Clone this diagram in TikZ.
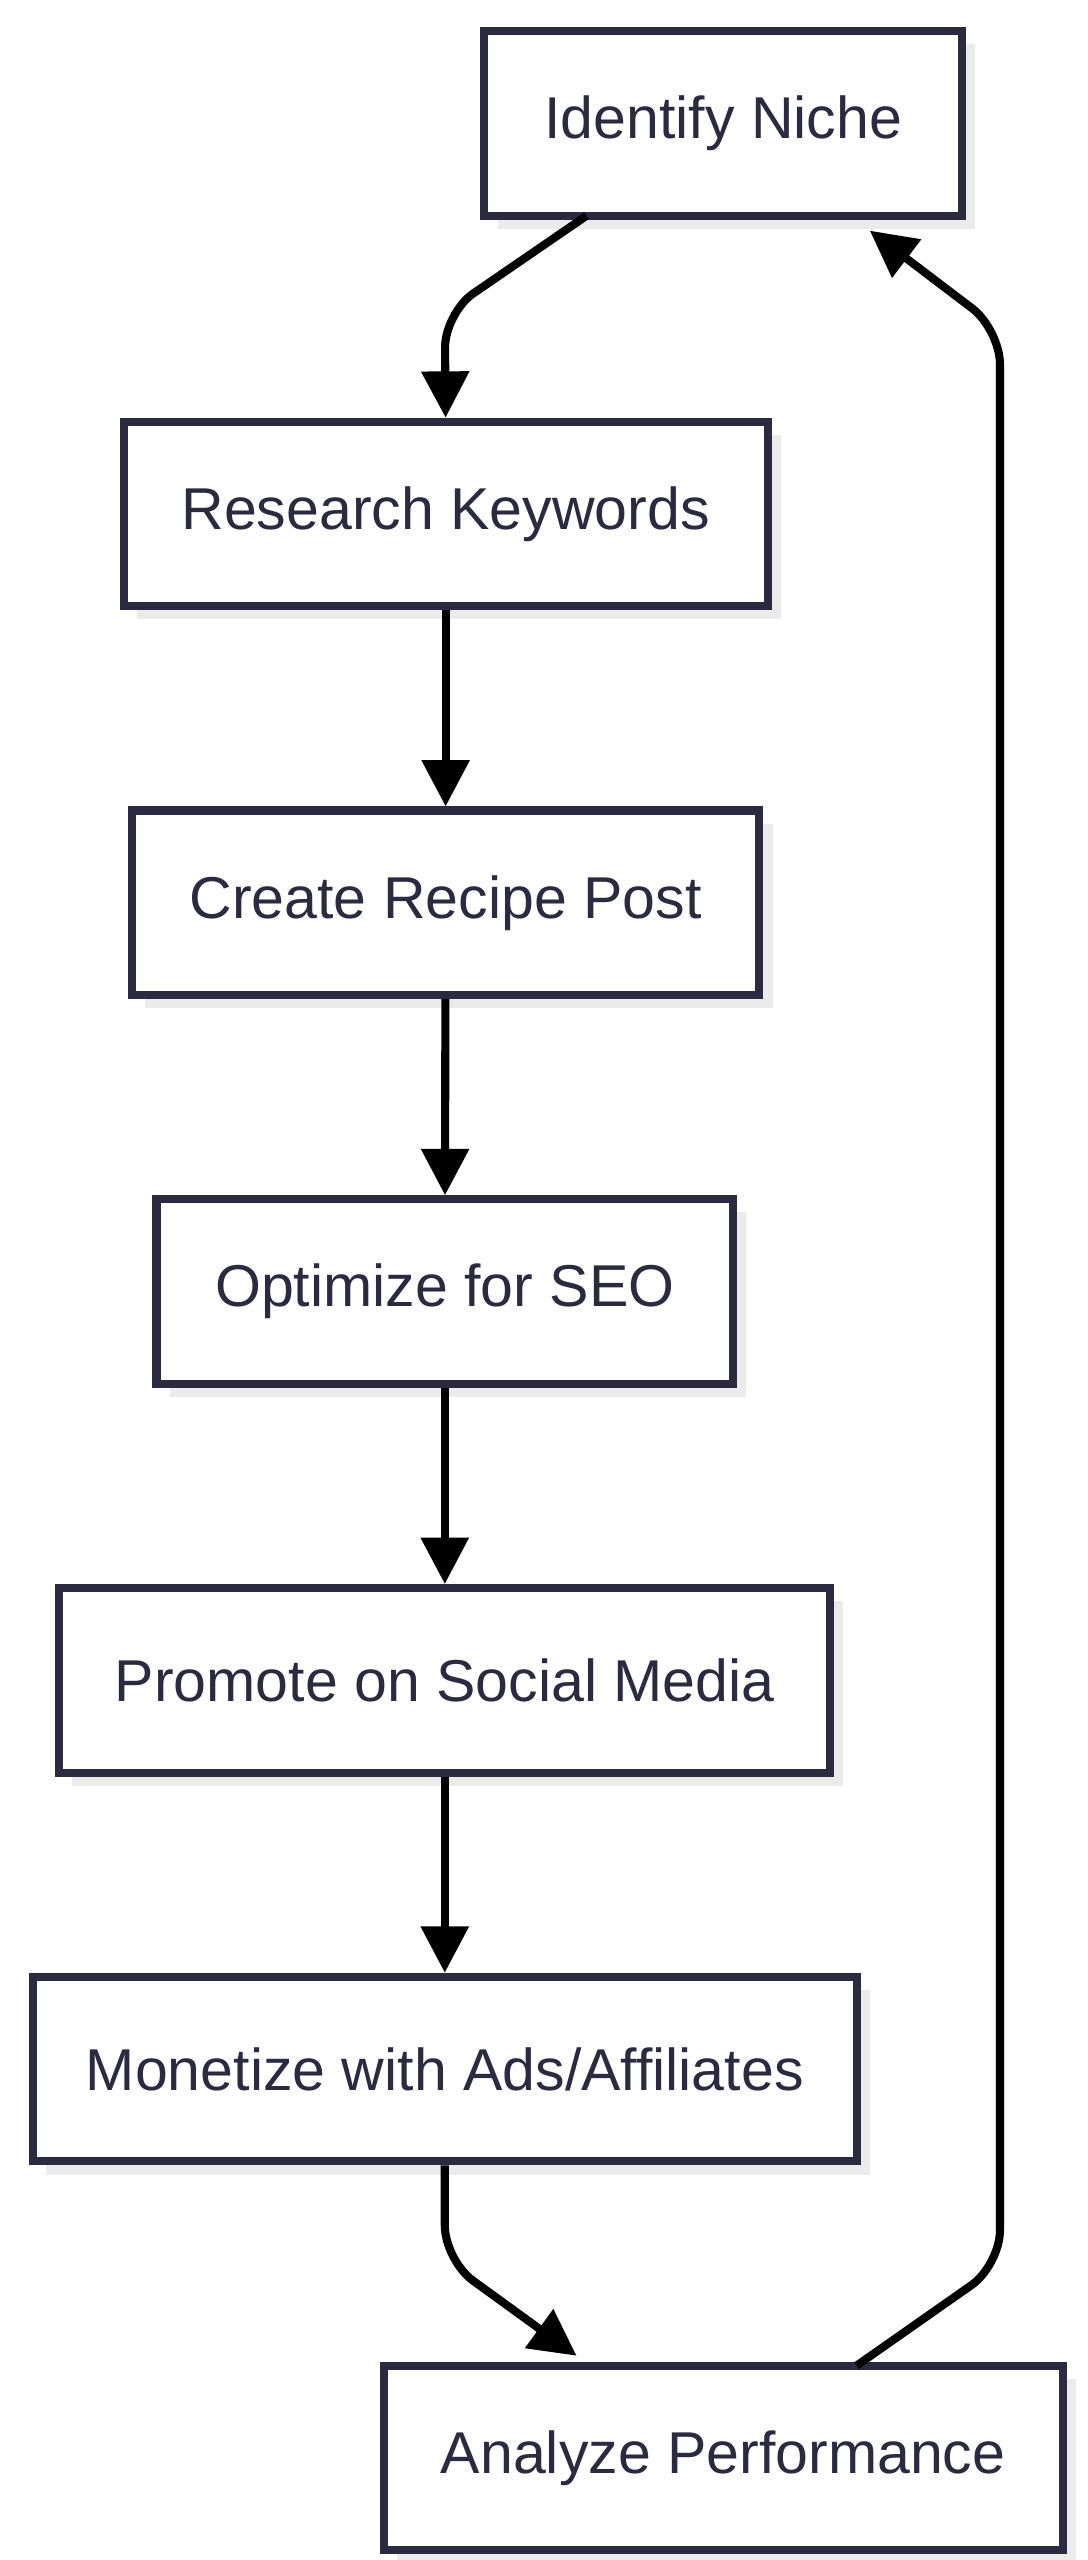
\documentclass[tikz,border=0pt]{standalone}
\usepackage{fontspec}
\setmainfont{Liberation Sans}
\usetikzlibrary{arrows.meta}
\definecolor{boxc}{HTML}{2B2A40}
\begin{document}
\begin{tikzpicture}[x=0.05cm,y=-0.05cm,
  stepbox/.style={draw=boxc,line width=7pt,fill=white,text=boxc,font=\fontsize{51}{56}\selectfont,inner sep=0pt},
  shade/.style={fill=black!8},
  conn/.style={line width=7pt,-{Triangle[length=40pt,width=40pt]},rounded corners=30pt}]
\useasboundingbox[fill=white] (0,0) rectangle (660,1554);
\def\bx#1#2#3#4#5#6{%
  \fill[shade] (#2+8,#3+8) rectangle (#4+8,#5+8);
  \node[stepbox,minimum width=(#4-#2)*0.05cm,minimum height=(#5-#3)*0.05cm] (#1) at ({(#2+#4)/2},{(#3+#5)/2}) {#6};}
\bx{a}{294}{19}{584}{131}{Identify Niche}
\bx{b}{75}{256}{466}{368}{Research Keywords}
\bx{c}{80}{492}{461}{604}{Create Recipe Post}
\bx{d}{95}{728}{445}{840}{Optimize for SEO}
\bx{e}{36}{964}{504}{1076}{Promote on Social Media}
\bx{f}{20}{1200}{520}{1312}{Monetize with Ads/Affiliates}
\bx{g}{233}{1436}{645}{1548}{Analyze Performance}
\coordinate (a1) at (356,131);
\coordinate (a2) at (528,140);
\coordinate (g1) at (350,1430);
\coordinate (g2) at (520,1436);
\draw[conn] (a1) -- (270,190) -- (b.north);
\draw[conn] (b) -- (c);
\draw[conn] (c) -- (d);
\draw[conn] (d) -- (e);
\draw[conn] (e) -- (f);
\draw[conn] (f.south) -- (270,1372) -- (g1);
\draw[conn] (g2) -- (607,1375) -- (607,200) -- (a2);
\end{tikzpicture}
\end{document}
